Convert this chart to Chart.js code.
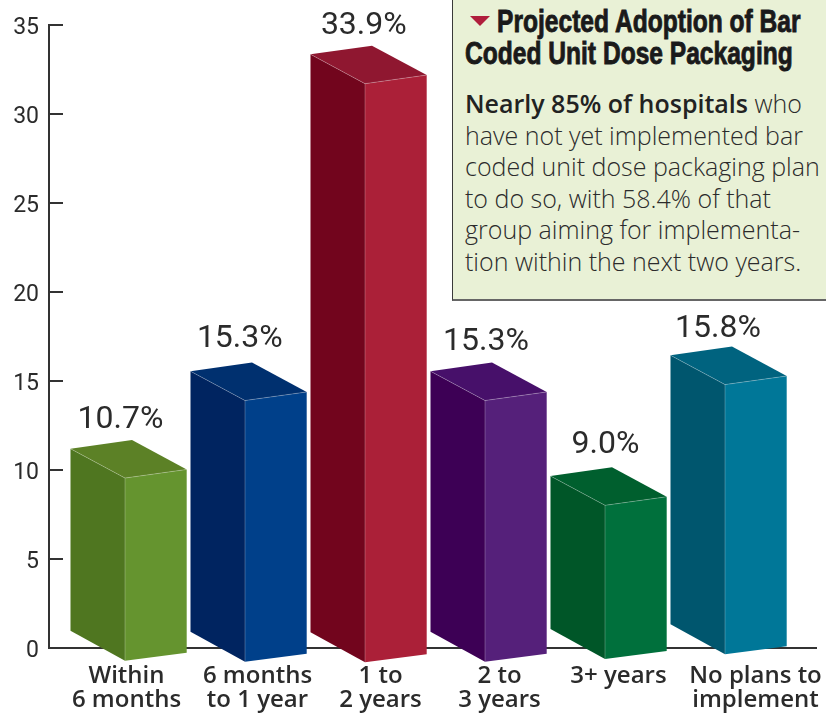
<!DOCTYPE html>
<html lang="en">
<head>
  <meta charset="UTF-8" />
  <title>Projected Adoption of Bar Coded Unit Dose Packaging</title>
  <script src="https://cdn.jsdelivr.net/npm/chart.js"></script>
  <style>
    html, body { margin: 0; padding: 0; background: #fff; }
    #wrap { position: relative; width: 826px; height: 713px; overflow: hidden; }
    #panel {
      position: absolute; left: 452px; top: -2px; width: 374px; height: 301px;
      background: #e9f1d6; border-left: 1.5px solid #3a3a3a; border-bottom: 2.5px solid #666;
      box-sizing: content-box; color: #2b2b2b;
    }
    #panel .head {
      position: absolute; white-space: nowrap; color: #1a1a1a;
      font: bold 32px "Liberation Sans", sans-serif;
      -webkit-text-stroke: 0.9px #1a1a1a;
      transform: scaleX(0.768); transform-origin: left top;
    }
    #panel .tri {
      position: absolute; left: 17px; top: 18px; width: 0; height: 0;
      border-left: 10px solid transparent; border-right: 10px solid transparent;
      border-top: 10px solid #b01e3c;
    }
    #panel p {
      position: absolute; left: 12px; top: 90px; margin: 0; white-space: nowrap;
      font: 300 25px/31.6px "Open Sans", sans-serif;
    }
    #panel b { font-weight: 600; color: #222; }
  </style>
</head>
<body>
<div id="wrap">
  <canvas id="chart" width="826" height="713"></canvas>
  <div id="panel">
    <div class="tri"></div>
    <div class="head" style="left:44px;top:5px">Projected Adoption of Bar</div>
    <div class="head" style="left:12px;top:37px">Coded Unit Dose Packaging</div>
    <p><b>Nearly 85% of hospitals</b> who<br>have not yet implemented bar<br>coded unit dose packaging plan<br>to do so, with 58.4% of that<br>group aiming for implementa-<br>tion within the next two years.</p>
  </div>
</div>

<script>
  const categories = [
    ['Within', '6 months'],
    ['6 months', 'to 1 year'],
    ['1 to', '2 years'],
    ['2 to', '3 years'],
    ['3+ years'],
    ['No plans to', 'implement']
  ];
  const values = [10.7, 15.3, 33.9, 15.3, 9.0, 15.8];
  const yTicks = [0, 5, 10, 15, 20, 25, 30, 35];

  // front, side, top
  const frontColors = ['#65942f', '#00408a', '#ab2038', '#55207a', '#00703c', '#007798'];
  const sideColors = ['#4f7620', '#002460', '#72051d', '#3d0055', '#005628', '#00566e'];
  const topColors = ['#5c8126', '#00306f', '#8f1730', '#47106a', '#005f2e', '#00637f'];

  // hand nudges so the text and bars land where the print has them
  const baseNudge = [-0.8, 0.2, 0.8, 0.2, -2.5, -7.2];
  const tickNudge = [17.5, 28.5, 31.5, 30.5, 29.5, 46.5];
  const valueNudgeX = [11.5, 10.8, 14.8, 17, 16.5, 9];
  const valueNudgeY = [-20, -23.5, -20, -20.5, -22.3, -17.5];

  const ink = '#2b2b2b';

  function poly(ctx, pts, fill) {
    ctx.beginPath();
    pts.forEach((p, i) => i ? ctx.lineTo(p[0], p[1]) : ctx.moveTo(p[0], p[1]));
    ctx.closePath();
    ctx.fillStyle = fill;
    ctx.fill();
  }

  function edge(ctx, pts) {
    ctx.beginPath();
    pts.forEach((p, i) => i ? ctx.lineTo(p[0], p[1]) : ctx.moveTo(p[0], p[1]));
    ctx.strokeStyle = 'rgba(255,255,255,0.3)';
    ctx.lineWidth = 0.8;
    ctx.stroke();
  }

  // the dataset is drawn as boxes, the flat bars are skipped
  const boxBars = {
    id: 'boxBars',
    beforeDatasetDraw(chart, args) {
      const ctx = chart.ctx;
      args.meta.data.forEach((bar, i) => {
        const fx = bar.x + 16;
        const top = bar.y + baseNudge[i];
        const bot = bar.base + baseNudge[i];
        const left = fx - 54.5, right = fx + 61.7;
        const topLeft = [left, top - 29.3], back = [fx + 7, top - 38], topRight = [right, top - 8.6];
        const frontTop = [fx, top], frontBot = [fx, bot];
        const botLeft = [left, bot - 30], botRight = [right, bot - 8];

        poly(ctx, [topLeft, frontTop, frontBot, botLeft], sideColors[i]);
        poly(ctx, [frontTop, topRight, botRight, frontBot], frontColors[i]);
        poly(ctx, [topLeft, back, topRight, frontTop], topColors[i]);
        edge(ctx, [topLeft, frontTop, topRight]);
        edge(ctx, [frontTop, frontBot]);

        ctx.fillStyle = ink;
        ctx.font = '32px Roboto';
        ctx.textAlign = 'center';
        ctx.textBaseline = 'middle';
        ctx.fillText(values[i].toFixed(1) + '%', bar.x + valueNudgeX[i], back[1] + valueNudgeY[i]);
      });
      return false;
    },
    beforeDatasetsDraw(chart) {
      const ctx = chart.ctx;
      const y = chart.scales.y.getPixelForValue(0);
      // x axis runs on past the last category
      ctx.beginPath();
      ctx.moveTo(chart.chartArea.left - 1, y);
      ctx.lineTo(817, y);
      ctx.strokeStyle = '#333';
      ctx.lineWidth = 2;
      ctx.stroke();

      ctx.fillStyle = ink;
      ctx.font = '600 24px "Open Sans"';
      ctx.textAlign = 'center';
      ctx.textBaseline = 'middle';
      categories.forEach((lines, i) => {
        const x = chart.scales.x.getPixelForTick(i) + tickNudge[i];
        lines.forEach((line, n) => ctx.fillText(line, x, 676 + n * 24));
      });
    }
  };

  new Chart(document.getElementById('chart'), {
    type: 'bar',
    plugins: [boxBars],
    data: {
      labels: categories,
      datasets: [{
        data: values,
        backgroundColor: frontColors,
        barThickness: 61.5,
        yAxisID: 'bars'
      }]
    },
    options: {
      responsive: false,
      animation: false,
      layout: { padding: { top: 25, right: 57, left: 0, bottom: 0 } },
      plugins: { legend: { display: false }, tooltip: { enabled: false } },
      scales: {
        x: {
          grid: { display: false },
          border: { display: false },
          ticks: { display: false },
          afterFit: s => { s.height = 65; }
        },
        y: {
          min: 0,
          max: 35,
          afterBuildTicks: s => { s.ticks = yTicks.map(v => ({ value: v })); },
          border: { color: '#333', width: 2 },
          grid: { drawOnChartArea: false, color: '#333', lineWidth: 2, tickLength: -14 },
          ticks: { color: ink, padding: 24, labelOffset: 3, font: { family: 'Roboto', size: 23 } },
          afterFit: s => { s.width = 49; s.paddingTop = 0; s.paddingBottom = 0; }
        },
        // front edges of the boxes sit on their own scale, a bit below the axis line
        bars: {
          display: false,
          min: 0.79,
          max: 37.29
        }
      }
    }
  });
</script>
</body>
</html>
